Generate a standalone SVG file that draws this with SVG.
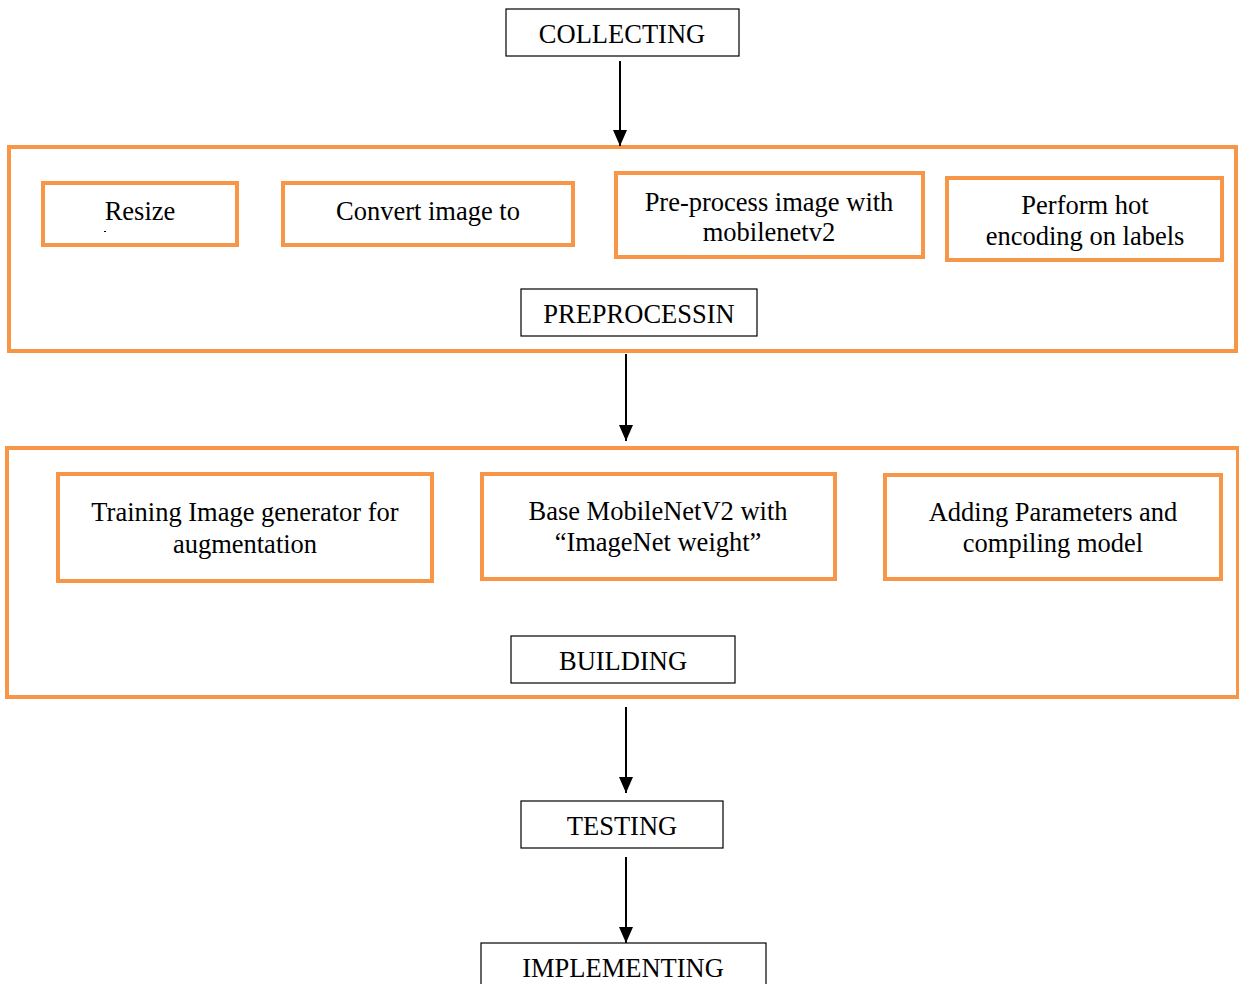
<svg xmlns="http://www.w3.org/2000/svg" width="1239" height="984" viewBox="0 0 1239 984">
<style>
.blk{fill:#fff;stroke:#000;stroke-width:1.2}
.org{fill:#fff;stroke:#F79646;stroke-width:4}
.outer{fill:none;stroke:#F79646;stroke-width:4}
text{font-family:"Liberation Serif","Times New Roman",serif;font-size:26.5px;fill:#000;text-anchor:middle}
.con{stroke:#000;stroke-width:2;fill:none}
</style>
<defs>
<marker id="arr" viewBox="0 0 16 14" refX="16" refY="7" markerWidth="16" markerHeight="14" orient="auto" markerUnits="userSpaceOnUse">
<path d="M0,0 L16,7 L0,14 z" fill="#000"/>
</marker>
</defs>
<rect width="1239" height="984" fill="#fff"/>
<g id="group-preprocessing"><rect class="outer" x="9" y="147" width="1227" height="204"/></g>
<g id="group-building"><rect class="outer" x="7" y="448" width="1231" height="249"/></g>
<g id="connectors">
<line class="con" x1="620" y1="61" x2="620" y2="146" marker-end="url(#arr)"/>
<line class="con" x1="626" y1="354" x2="626" y2="441" marker-end="url(#arr)"/>
<line class="con" x1="626" y1="707" x2="626" y2="793" marker-end="url(#arr)"/>
<line class="con" x1="626" y1="857" x2="626" y2="943" marker-end="url(#arr)"/>
</g>
<g id="collecting"><rect class="blk" x="506" y="9" width="233" height="47"/><text x="622" y="43">COLLECTING</text></g>
<g id="resize"><rect class="org" x="43" y="183" width="194" height="62"/><text x="140" y="220">Resize</text><rect x="104" y="231" width="2" height="1" fill="#000"/></g>
<g id="convert"><rect class="org" x="283" y="183" width="290" height="62"/><text x="428" y="220">Convert image to</text></g>
<g id="preprocess-image"><rect class="org" x="616" y="173" width="307" height="84"/><text x="769" y="211">Pre-process image with</text><text x="769" y="241">mobilenetv2</text></g>
<g id="hot-encoding"><rect class="org" x="947" y="178" width="275" height="82"/><text x="1085" y="214">Perform hot</text><text x="1085" y="245">encoding on labels</text></g>
<g id="preprocessin"><rect class="blk" x="521" y="289" width="236" height="47"/><text x="639" y="323">PREPROCESSIN</text></g>
<g id="training"><rect class="org" x="58" y="474" width="374" height="107"/><text x="245" y="521">Training Image generator for</text><text x="245" y="553">augmentation</text></g>
<g id="base"><rect class="org" x="482" y="474" width="353" height="105"/><text x="658" y="520">Base MobileNetV2 with</text><text x="658" y="551">“ImageNet weight”</text></g>
<g id="adding"><rect class="org" x="885" y="475" width="336" height="104"/><text x="1053" y="521">Adding Parameters and</text><text x="1053" y="552">compiling model</text></g>
<g id="building"><rect class="blk" x="511" y="636" width="224" height="47"/><text x="623" y="670">BUILDING</text></g>
<g id="testing"><rect class="blk" x="521" y="801" width="202" height="47"/><text x="622" y="835">TESTING</text></g>
<g id="implementing"><rect class="blk" x="481" y="943" width="285" height="60"/><text x="623" y="977">IMPLEMENTING</text></g>
</svg>
